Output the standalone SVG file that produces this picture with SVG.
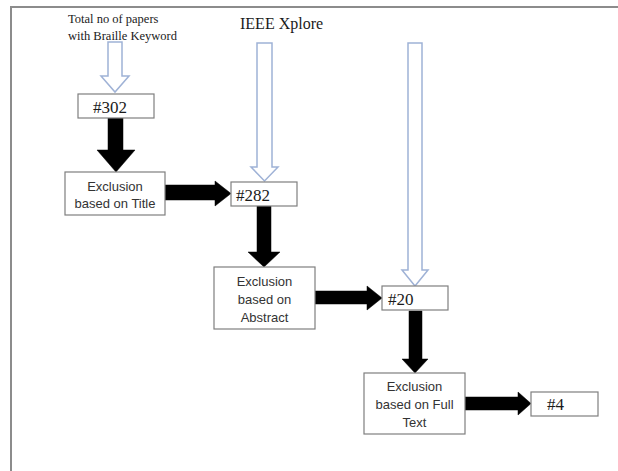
<svg xmlns="http://www.w3.org/2000/svg" width="618" height="471" viewBox="0 0 618 471">
  <style>
    .frame { stroke: #8c8c8c; stroke-width: 2; fill: none; }
    .box { fill: #ffffff; stroke: #7f7f7f; stroke-width: 1.2; }
    .num { font-family: "Liberation Serif", "Times New Roman", serif; font-size: 17px; fill: #1a1a1a; }
    .lbl { font-family: "Liberation Sans", Arial, sans-serif; font-size: 13px; fill: #333333; text-anchor: middle; }
    .src { font-family: "Liberation Serif", "Times New Roman", serif; fill: #1a1a1a; }
    .hollow { fill: #ffffff; stroke: #9fb2d6; stroke-width: 1.5; stroke-linejoin: miter; }
    .solid { fill: #000000; stroke: #000000; stroke-width: 0.5; }
  </style>

  <!-- page frame -->
  <polyline class="frame" points="11,471 11,7 618,7"/>

  <!-- source captions -->
  <g id="src-braille">
    <text class="src" x="68" y="23" font-size="12.5">Total no of papers</text>
    <text class="src" x="68" y="40" font-size="12.5">with Braille Keyword</text>
  </g>
  <g id="src-ieee">
    <text class="src" x="240" y="29" font-size="16">IEEE Xplore</text>
  </g>

  <!-- connectors -->
  <g id="connectors">
    <!-- hollow input arrows -->
    <polygon class="hollow" points="108,42 122,42 122,76 129,76 115,92 101,76 108,76"/>
    <polygon class="hollow" points="257,43 272,43 272,167 278,167 264.5,181 251,167 257,167"/>
    <polygon class="hollow" points="408,43 422,43 422,270 428,270 415,286 402,270 408,270"/>

    <!-- solid flow arrows -->
    <polygon class="solid" points="108,118 123,118 123,150 135,150 116,172 97,150 108,150"/>
    <polygon class="solid" points="165,185 215,185 215,181 231,193.5 215,206 215,200 165,200"/>
    <polygon class="solid" points="257,206 271,206 271,252 280,252 264,267 248,252 257,252"/>
    <polygon class="solid" points="315,291 367,291 367,286 382,298 367,310 367,304 315,304"/>
    <polygon class="solid" points="409,311 422,311 422,359 428,359 415,373 402,359 409,359"/>
    <polygon class="solid" points="465,397 518,397 518,392 531,403.5 518,415 518,410 465,410"/>
  </g>

  <!-- nodes -->
  <g id="n302">
    <rect class="box" x="78" y="94" width="76" height="24"/>
    <text class="num" x="93" y="113">#302</text>
  </g>

  <g id="title-exclusion">
    <rect class="box" x="65" y="172" width="100" height="43"/>
    <text class="lbl" x="115" y="191">Exclusion</text>
    <text class="lbl" x="115" y="208">based on Title</text>
  </g>

  <g id="n282">
    <rect class="box" x="231" y="182" width="66" height="24"/>
    <text class="num" x="236" y="201">#282</text>
  </g>

  <g id="abstract-exclusion">
    <rect class="box" x="214" y="267" width="101" height="62"/>
    <text class="lbl" x="264.5" y="286">Exclusion</text>
    <text class="lbl" x="264.5" y="304">based on</text>
    <text class="lbl" x="264.5" y="322">Abstract</text>
  </g>

  <g id="n20">
    <rect class="box" x="382" y="286" width="66" height="24"/>
    <text class="num" x="388" y="305">#20</text>
  </g>

  <g id="fulltext-exclusion">
    <rect class="box" x="364" y="373" width="101" height="61"/>
    <text class="lbl" x="414.5" y="391">Exclusion</text>
    <text class="lbl" x="414.5" y="409">based on Full</text>
    <text class="lbl" x="414.5" y="427">Text</text>
  </g>

  <g id="n4">
    <rect class="box" x="531" y="392" width="67" height="24"/>
    <text class="num" x="547" y="410" font-size="16">#4</text>
  </g>
</svg>
